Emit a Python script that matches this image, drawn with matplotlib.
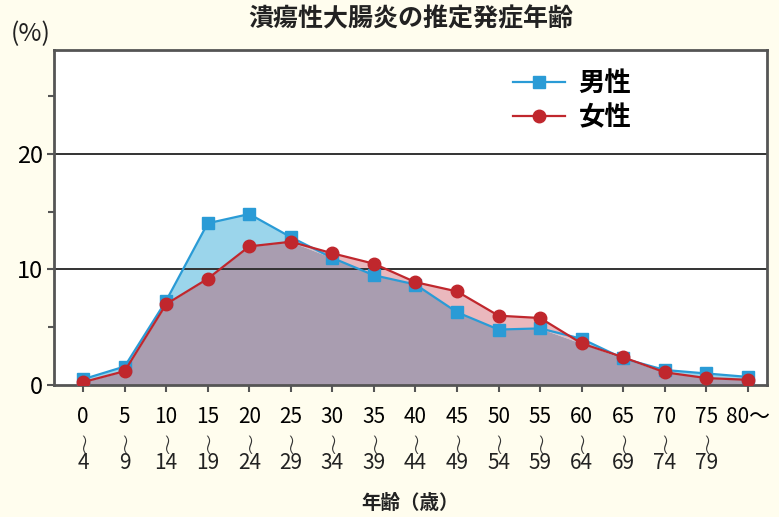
import numpy as np
import matplotlib
matplotlib.use('Agg')
import matplotlib.pyplot as plt
import matplotlib.transforms as mtransforms

plt.rcParams['font.family'] = ['Noto Sans CJK JP', 'DejaVu Sans']

# 年齢階級
age_top = ['0', '5', '10', '15', '20', '25', '30', '35', '40', '45', '50', '55',
           '60', '65', '70', '75', '80～']
age_bottom = ['4', '9', '14', '19', '24', '29', '34', '39', '44', '49', '54', '59',
              '64', '69', '74', '79', '']
# 推定発症年齢の割合 (%)
male = [0.5, 1.6, 7.3, 14.0, 14.8, 12.8, 11.0, 9.5, 8.7, 6.3, 4.8, 4.9,
        4.0, 2.3, 1.3, 1.0, 0.7]
female = [0.25, 1.2, 7.0, 9.2, 12.0, 12.4, 11.4, 10.5, 8.9, 8.1, 6.0, 5.8,
          3.6, 2.4, 1.1, 0.6, 0.45]

bg = '#FFFDEE'
c_male = '#2A9BD6'
c_female = '#C0272D'

fig = plt.figure(figsize=(7.79, 5.17), dpi=100, facecolor=bg)
ax = fig.add_axes([0.0693, 0.2553, 0.9153, 0.648])
ax.set_facecolor('white')

x = np.arange(len(male))
m = np.array(male)
f = np.array(female)
lo = np.minimum(m, f)
ax.fill_between(x, lo, m, where=m >= f, interpolate=True, color='#9BD5EB', lw=0)
ax.fill_between(x, lo, f, where=f >= m, interpolate=True, color='#EAB8BD', lw=0)
ax.fill_between(x, 0, lo, color='#A99DB0', lw=0)

ax.axhline(10, color='#333333', lw=1.4, zorder=2)
ax.axhline(20, color='#333333', lw=1.4, zorder=2)

ax.plot(x, m, color=c_male, lw=1.6, marker='s', ms=9, label='男性', zorder=4)
ax.plot(x, f, color=c_female, lw=1.6, marker='o', ms=9, label='女性', zorder=5)

ax.set_xlim(-0.7, 16.46)
ax.set_ylim(0, 29)

ax.set_yticks([0, 10, 20])
ax.set_yticks([5, 15, 25], minor=True)
ax.tick_params(axis='y', which='both', direction='out', length=5, width=1.5,
               color='#555555', labelsize=17, pad=3)
ax.tick_params(axis='y', which='minor', length=4)

ax.set_xticks(x)
ax.set_xticklabels(age_top, fontsize=15)
ax.tick_params(axis='x', direction='out', length=5, width=1.5, color='#555555', pad=10)

# 縦の波線と階級の上限
trans = mtransforms.blended_transform_factory(ax.transData, ax.transAxes)
for xi, b in zip(x, age_bottom):
    if b:
        ax.text(xi, -0.166, '~', rotation=90, ha='center', va='center',
                fontsize=21, family='DejaVu Sans', fontweight='light',
                color='#333333', transform=trans, clip_on=False)
        ax.text(xi, -0.232, b, ha='center', va='center', fontsize=15,
                color='#222222', transform=trans, clip_on=False)

for s in ax.spines.values():
    s.set_color('#555555')
    s.set_linewidth(2)

leg = ax.legend(loc='upper left', bbox_to_anchor=(0.61, 1.01), frameon=False,
                handlelength=2.0, labelspacing=0.25, handletextpad=0.5,
                prop={'weight': 'bold', 'size': 19})

fig.text(0.527, 0.962, '潰瘍性大腸炎の推定発症年齢', ha='center', va='center',
         fontsize=18, fontweight='bold', color='#222222')
fig.text(0.04, 0.935, '(%)', ha='center', va='center', fontsize=18, color='#222222')
fig.text(0.527, 0.027, '年齢（歳）', ha='center', va='center',
         fontsize=14, fontweight='bold', color='#222222')

fig.savefig('out.png', dpi=100, facecolor=bg)
